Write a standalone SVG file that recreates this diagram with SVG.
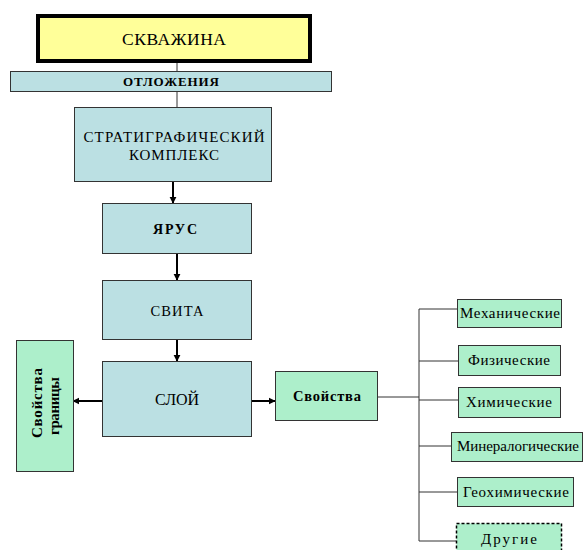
<svg xmlns="http://www.w3.org/2000/svg" width="583" height="550" viewBox="0 0 583 550">
<defs>
<marker id="ah" viewBox="0 0 10 10" refX="9" refY="5" markerWidth="3.6" markerHeight="3.6" orient="auto" markerUnits="strokeWidth">
<path d="M0,0 L10,5 L0,10 z" fill="#000"/>
</marker>
<style>
.t{font-family:"Liberation Serif","Times New Roman",serif;fill:#000;text-anchor:middle}
.b{font-weight:bold}
.blue{fill:#BBE0E3;stroke:#333;stroke-width:1}
.green{fill:#ADEFCB;stroke:#333;stroke-width:1}
.arr{stroke:#000;stroke-width:2;fill:none;marker-end:url(#ah)}
.ln{stroke:#333;stroke-width:1;fill:none}
</style>
</defs>
<rect width="583" height="550" fill="#fff"/>
<g id="connectors">
<line class="ln" x1="177" y1="62" x2="177" y2="71"/>
<line class="ln" x1="177" y1="91" x2="177" y2="107"/>
<line class="arr" x1="173" y1="182" x2="173" y2="203"/>
<line class="arr" x1="177" y1="254" x2="177" y2="280"/>
<line class="arr" x1="177" y1="340" x2="177" y2="361"/>
<line class="arr" x1="102" y1="401" x2="73" y2="401"/>
<line class="arr" x1="252" y1="401" x2="275" y2="401"/>
<line class="ln" x1="378" y1="397" x2="419" y2="397"/>
<line class="ln" x1="419" y1="309" x2="419" y2="541"/>
<line class="ln" x1="419" y1="309" x2="457" y2="309"/>
<line class="ln" x1="419" y1="361" x2="458" y2="361"/>
<line class="ln" x1="419" y1="400" x2="458" y2="400"/>
<line class="ln" x1="419" y1="446" x2="451" y2="446"/>
<line class="ln" x1="419" y1="492" x2="457" y2="492"/>
<line class="ln" x1="419" y1="541" x2="456" y2="541"/>
</g>
<g id="skvazhina">
<rect x="38" y="16" width="272" height="45" fill="#FFFF99" stroke="#000" stroke-width="4"/>
<text class="t" x="174" y="45" font-size="17.5" textLength="104">СКВАЖИНА</text>
</g>
<g id="otlozheniya">
<rect class="blue" x="10.5" y="71.5" width="321" height="20"/>
<text class="t b" x="171" y="86" font-size="13" textLength="96">ОТЛОЖЕНИЯ</text>
</g>
<g id="strat">
<rect class="blue" x="74.5" y="107.5" width="197" height="74"/>
<text class="t" x="174" y="142" font-size="15" textLength="181">СТРАТИГРАФИЧЕСКИЙ</text>
<text class="t" x="174" y="160" font-size="15" textLength="90">КОМПЛЕКС</text>
</g>
<g id="yarus">
<rect class="blue" x="102.5" y="203.5" width="149" height="50"/>
<text class="t b" x="175" y="234" font-size="14" textLength="44">ЯРУС</text>
</g>
<g id="svita">
<rect class="blue" x="102.5" y="280.5" width="149" height="59"/>
<text class="t" x="177" y="316" font-size="14.5" textLength="53">СВИТА</text>
</g>
<g id="sloy">
<rect class="blue" x="102.5" y="361.5" width="149" height="75"/>
<text class="t" x="177" y="405" font-size="16" textLength="44">СЛОЙ</text>
</g>
<g id="svoystva-granitsy">
<rect class="green" x="16.5" y="340.5" width="57" height="131"/>
<text class="t b" transform="translate(37,403) rotate(-90)" y="5" font-size="15" textLength="70">Свойства</text>
<text class="t b" transform="translate(55,406) rotate(-90)" y="4" font-size="15" textLength="58">границы</text>
</g>
<g id="svoystva">
<rect class="green" x="275.5" y="371.5" width="102" height="49"/>
<text class="t b" x="327" y="401" font-size="14.5" textLength="68">Свойства</text>
</g>
<g id="mekhanicheskie">
<rect class="green" x="457.5" y="299.5" width="104" height="28"/>
<text class="t" x="510" y="318" font-size="15" textLength="100">Механические</text>
</g>
<g id="fizicheskie">
<rect class="green" x="458.5" y="345.5" width="102" height="30"/>
<text class="t" x="509" y="365" font-size="15" textLength="82">Физические</text>
</g>
<g id="khimicheskie">
<rect class="green" x="458.5" y="387.5" width="102" height="30"/>
<text class="t" x="509" y="407" font-size="15" textLength="86">Химические</text>
</g>
<g id="mineralogicheskie">
<rect class="green" x="451.5" y="432.5" width="131" height="29"/>
<text class="t" x="518" y="451" font-size="15" textLength="122">Минералогические</text>
</g>
<g id="geokhimicheskie">
<rect class="green" x="457.5" y="477.5" width="116" height="29"/>
<text class="t" x="516" y="497" font-size="15" textLength="106">Геохимические</text>
</g>
<g id="drugie">
<rect x="456.5" y="523.5" width="105" height="40" fill="#ADEFCB" stroke="#000" stroke-width="1.5" stroke-dasharray="3,2"/>
<text class="t" x="509" y="544" font-size="15" textLength="56">Другие</text>
</g>
</svg>
